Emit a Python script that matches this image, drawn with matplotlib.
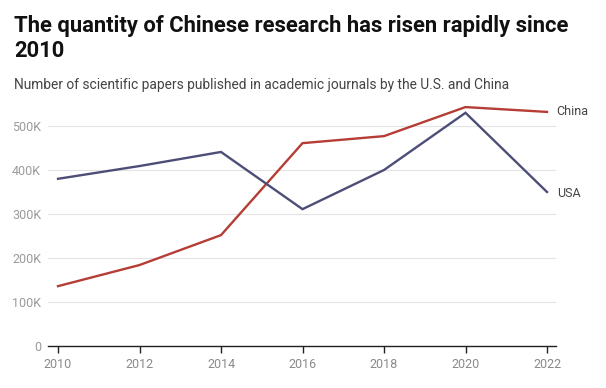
import matplotlib.pyplot as plt
from matplotlib.ticker import FuncFormatter

years = [2010, 2012, 2014, 2016, 2018, 2020, 2022]
china = [136000, 184000, 252000, 461000, 477000, 543000, 532000]
usa = [380000, 409000, 441000, 311000, 400000, 530000, 350000]
yticks = [0, 100000, 200000, 300000, 400000, 500000]

plt.rcParams["font.family"] = ["Roboto", "DejaVu Sans"]

fig = plt.figure(figsize=(6.06, 3.88), dpi=100)
ax = fig.add_axes([48 / 606, 1 - 346 / 388, (556 - 48) / 606, (346 - 99.6) / 388])

red = "#b53d35"
navy = "#4d4e78"
ax.plot(years, china, color=red, lw=1.7, solid_joinstyle="miter")
ax.plot(years, usa, color=navy, lw=1.7, solid_joinstyle="miter")

ax.set_xlim(2010 - 10 / 40.75, 2022 + 9 / 40.75)
ax.set_ylim(0, 560000)
ax.set_xticks(years)
ax.set_yticks(yticks)
ax.yaxis.set_major_formatter(FuncFormatter(lambda v, p: "0" if v == 0 else f"{int(v / 1000)}K"))

ax.grid(axis="y", color="#e3e3e3", lw=0.8)
ax.set_axisbelow(True)
for s in ["top", "right", "left"]:
    ax.spines[s].set_visible(False)
ax.spines["bottom"].set_color("#222222")
ax.spines["bottom"].set_linewidth(1.0)
ax.tick_params(axis="y", length=0, pad=5, labelsize=9, labelcolor="#9a9a9a")
ax.tick_params(axis="x", length=5, width=1, color="#222222", pad=4, labelsize=9, labelcolor="#8a8a8a")

ax.annotate("China", xy=(years[-1], china[-1]), xytext=(7, 0), textcoords="offset points",
            fontsize=9, color="#444444", va="center", ha="left", annotation_clip=False)
ax.annotate("USA", xy=(years[-1], usa[-1]), xytext=(7, -1), textcoords="offset points",
            fontsize=9, color="#444444", va="center", ha="left", annotation_clip=False)

fig.text(14 / 606, 1 - 32 / 388, "The quantity of Chinese research has risen rapidly since",
         fontsize=15.8, fontweight="bold", color="#111111", va="baseline")
fig.text(14 / 606, 1 - 57 / 388, "2010",
         fontsize=15.8, fontweight="bold", color="#111111", va="baseline")
fig.text(14 / 606, 1 - 89 / 388,
         "Number of scientific papers published in academic journals by the U.S. and China",
         fontsize=9.9, color="#444444", va="baseline")

fig.savefig("out.png", dpi=100, facecolor="white")
